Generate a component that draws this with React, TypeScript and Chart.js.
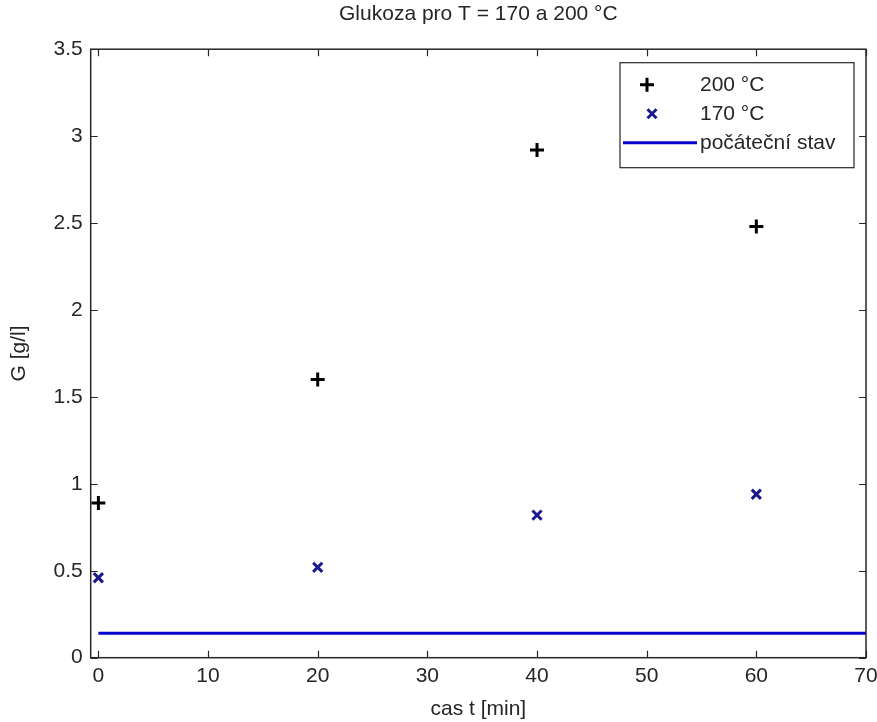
import React, { useEffect, useRef } from "react";
import { Chart, registerables } from "chart.js";

Chart.register(...registerables);

// ---- data ----
const times = [0, 20, 40, 60];
const glucose200 = [0.89, 1.6, 2.92, 2.48];
const glucose170 = [0.46, 0.52, 0.82, 0.94];
const initialLevel = 0.14;
const initialSpan = [0, 70];
const xTicks = [0, 10, 20, 30, 40, 50, 60, 70];
const yTicks = [0, 0.5, 1, 1.5, 2, 2.5, 3, 3.5];
const seriesLabels = ["200 °C", "170 °C", "počáteční stav"];
const chartTitle = "Glukoza pro T = 170 a 200 °C";
const xTitle = "cas t [min]";
const yTitle = "G [g/l]";

const FONT = "'Liberation Sans', Arial, Helvetica, sans-serif";
const TEXT = "#262626";
const FRAME = "#262626";
const BLACK = "#000000";
const NAVY = "#1a1a8c";
const BLUE = "#0505cf";

const framePlugin = {
  id: "matlabFrame",
  afterDraw(chart: any) {
    const { ctx, chartArea } = chart;
    const { left, right, top, bottom } = chartArea;
    const xs = chart.scales.x;
    const ys = chart.scales.y;
    ctx.save();
    ctx.strokeStyle = FRAME;
    ctx.lineWidth = 1.5;
    ctx.strokeRect(left, top, right - left, bottom - top);
    ctx.lineWidth = 1.2;
    const tl = 7;
    ctx.beginPath();
    for (const v of xTicks) {
      const p = Math.round(xs.getPixelForValue(v)) + 0.5;
      ctx.moveTo(p, bottom);
      ctx.lineTo(p, bottom - tl);
      ctx.moveTo(p, top);
      ctx.lineTo(p, top + tl);
    }
    for (const v of yTicks) {
      const p = Math.round(ys.getPixelForValue(v)) + 0.5;
      ctx.moveTo(left, p);
      ctx.lineTo(left + tl, p);
      ctx.moveTo(right, p);
      ctx.lineTo(right - tl, p);
    }
    ctx.stroke();

    // legend box
    const bw = 234;
    const bh = 105;
    const bx = right - 12 - bw;
    const by = top + 13.5;
    ctx.fillStyle = "#ffffff";
    ctx.fillRect(bx, by, bw, bh);
    ctx.lineWidth = 1.2;
    ctx.strokeStyle = FRAME;
    ctx.strokeRect(bx, by, bw, bh);
    const rows = [by + 22, by + 51, by + 80];
    ctx.font = `21px ${FONT}`;
    ctx.fillStyle = TEXT;
    ctx.textBaseline = "middle";
    ctx.textAlign = "left";
    const ds = chart.data.datasets;
    // plus
    ctx.strokeStyle = BLACK;
    ctx.lineWidth = 3;
    ctx.beginPath();
    const px = bx + 27;
    ctx.moveTo(px - 7, rows[0]);
    ctx.lineTo(px + 7, rows[0]);
    ctx.moveTo(px, rows[0] - 7);
    ctx.lineTo(px, rows[0] + 7);
    ctx.stroke();
    // x mark
    ctx.strokeStyle = NAVY;
    ctx.lineWidth = 3;
    ctx.beginPath();
    const qx = bx + 32;
    const d = 4.5;
    ctx.moveTo(qx - d, rows[1] - d);
    ctx.lineTo(qx + d, rows[1] + d);
    ctx.moveTo(qx - d, rows[1] + d);
    ctx.lineTo(qx + d, rows[1] - d);
    ctx.stroke();
    // line
    ctx.strokeStyle = BLUE;
    ctx.lineWidth = 3;
    ctx.beginPath();
    ctx.moveTo(bx + 3, rows[2]);
    ctx.lineTo(bx + 77, rows[2]);
    ctx.stroke();
    ctx.fillStyle = TEXT;
    for (let i = 0; i < 3; i++) {
      ctx.fillText(ds[i].label, bx + 80, rows[i] + 1);
    }
    ctx.restore();
  },
};

export default function App() {
  const ref = useRef<HTMLCanvasElement | null>(null);

  useEffect(() => {
    if (!ref.current) return;
    const chart = new Chart(ref.current, {
      type: "scatter",
      data: {
        datasets: [
          {
            label: seriesLabels[0],
            data: times.map((t, i) => ({ x: t, y: glucose200[i] })),
            pointStyle: "cross",
            pointRadius: 7,
            pointBorderWidth: 3,
            borderColor: BLACK,
            backgroundColor: BLACK,
            showLine: false,
          },
          {
            label: seriesLabels[1],
            data: times.map((t, i) => ({ x: t, y: glucose170[i] })),
            pointStyle: "crossRot",
            pointRadius: 6.5,
            pointBorderWidth: 3,
            borderColor: NAVY,
            backgroundColor: NAVY,
            showLine: false,
          },
          {
            label: seriesLabels[2],
            data: initialSpan.map((t) => ({ x: t, y: initialLevel })),
            showLine: true,
            pointRadius: 0,
            borderColor: BLUE,
            backgroundColor: BLUE,
            borderWidth: 3,
          },
        ],
      },
      options: {
        responsive: false,
        animation: false,
        layout: { padding: { left: 0, right: 11, top: 0, bottom: 0 } },
        plugins: {
          legend: { display: false },
          tooltip: { enabled: false },
          title: {
            display: true,
            fullSize: false,
            text: chartTitle,
            color: TEXT,
            font: { family: FONT, size: 21, weight: "normal" },
            padding: { top: 2, bottom: 22 },
          },
        },
        scales: {
          x: {
            type: "linear",
            min: -0.7,
            max: 70,
            afterBuildTicks: (s: any) => {
              s.ticks = xTicks.map((v) => ({ value: v }));
            },
            afterFit: (s: any) => {
              s.height = 64.3;
              s.paddingRight = 0;
              s.paddingLeft = 0;
            },
            grid: { display: false, drawTicks: false },
            border: { display: false },
            ticks: {
              color: TEXT,
              font: { family: FONT, size: 21 },
              padding: 6,
              maxRotation: 0,
              autoSkip: false,
              callback: (v: any) => String(v),
            },
            title: {
              display: true,
              text: xTitle,
              color: TEXT,
              font: { family: FONT, size: 21 },
              padding: { top: 0, bottom: 0 },
            },
          },
          y: {
            type: "linear",
            min: 0,
            max: 3.5,
            afterBuildTicks: (s: any) => {
              s.ticks = yTicks.map((v) => ({ value: v }));
            },
            afterFit: (s: any) => {
              s.width = 90.7;
              s.paddingTop = 0;
              s.paddingBottom = 0;
            },
            grid: { display: false, drawTicks: false },
            border: { display: false },
            ticks: {
              color: TEXT,
              font: { family: FONT, size: 21 },
              padding: 8,
              autoSkip: false,
              callback: (v: any) => String(v),
            },
            title: {
              display: true,
              text: yTitle,
              color: TEXT,
              font: { family: FONT, size: 21 },
              padding: { top: 7, bottom: 0 },
            },
          },
        },
      },
      plugins: [framePlugin],
    });
    return () => chart.destroy();
  }, []);

  return (
    <div style={{ position: "absolute", left: 0, top: 0, width: 877, height: 722, background: "#fff" }}>
      <canvas ref={ref} width={877} height={722} style={{ display: "block" }} />
    </div>
  );
}
